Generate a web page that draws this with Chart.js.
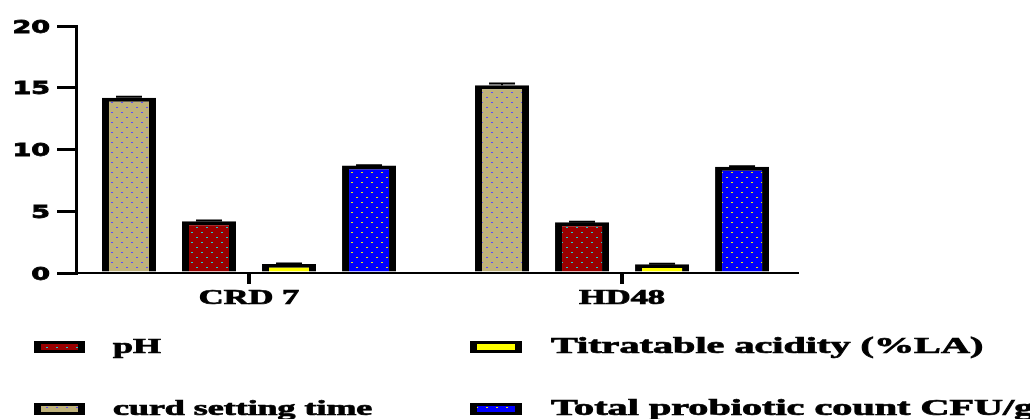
<!DOCTYPE html>
<html>
<head>
<meta charset="utf-8">
<script src="https://cdn.jsdelivr.net/npm/chart.js@4.4.1/dist/chart.umd.min.js"></script>
<style>
  html, body { margin: 0; padding: 0; background: #ffffff; }
  #wrap { width: 1030px; height: 419px; position: relative; }
</style>
</head>
<body>
<div id="wrap"><canvas id="c" width="1030" height="419"></canvas></div>
<script>
// ---- data ----
const categories = ['CRD 7', 'HD48'];
const seriesNames = ['curd setting time', 'pH', 'Titratable acidity (%LA)', 'Total probiotic count CFU/g'];
const curdSettingTime = [14.2, 15.2];
const pHValues = [4.2, 4.1];
const titratableAcidity = [0.72, 0.7];
const totalProbioticCount = [8.7, 8.6];
const curdSettingErr = [0.08, 0.15];
const pHErr = [0.05, 0.05];
const titratableErr = [0.05, 0.05];
const totalProbioticErr = [0.03, 0.05];
const yTickValues = [0, 5, 10, 15, 20];
const legendOrder = ['pH', 'Titratable acidity (%LA)', 'curd setting time', 'Total probiotic count CFU/g'];

// ---- patterns ----
function dotPattern(bg, dot) {
  const t = document.createElement('canvas');
  t.width = 10; t.height = 10;
  const g = t.getContext('2d');
  g.fillStyle = bg; g.fillRect(0, 0, 10, 10);
  if (dot) {
    g.fillStyle = dot;
    g.fillRect(1, 2, 2, 1);
    g.fillRect(6, 7, 2, 1);
  }
  return document.getElementById('c').getContext('2d').createPattern(t, 'repeat');
}
const fills = [
  dotPattern('#bfb27b', '#5a4cff'),
  dotPattern('#990000', '#19d0d0'),
  dotPattern('#ffff00', null),
  dotPattern('#0000ff', '#f0f000')
];

const valueSets = [curdSettingTime, pHValues, titratableAcidity, totalProbioticCount];
const errSets = [curdSettingErr, pHErr, titratableErr, totalProbioticErr];

const datasets = seriesNames.map((name, k) => ({
  label: name,
  data: valueSets[k].map((v, i) => ({ x: i, y: v })),
  errors: errSets[k],
  backgroundColor: fills[k],
  borderColor: '#000000',
  borderWidth: { top: 4, left: 7, right: 7, bottom: 0 },
  borderSkipped: 'bottom',
  categoryPercentage: 0.858,
  barPercentage: 0.675
}));

function stretchText(ctx, text, x, y, font, sx, align, stroke) {
  ctx.save();
  ctx.font = font;
  ctx.fillStyle = '#000';
  ctx.strokeStyle = '#000';
  ctx.textBaseline = 'alphabetic';
  ctx.textAlign = align;
  ctx.translate(x, y);
  ctx.scale(sx, 1);
  ctx.fillText(text, 0, 0);
  if (stroke) { ctx.lineWidth = stroke; ctx.strokeText(text, 0, 0); }
  ctx.restore();
}

const decorPlugin = {
  id: 'decor',
  afterDatasetsDraw(chart) {
    const ctx = chart.ctx;
    const ys = chart.scales.y;
    // error bars
    chart.data.datasets.forEach((ds, k) => {
      const meta = chart.getDatasetMeta(k);
      meta.data.forEach((el, i) => {
        const v = ds.data[i].y;
        const e = ds.errors[i];
        const yTop = ys.getPixelForValue(v + e);
        ctx.save();
        ctx.strokeStyle = '#000';
        ctx.lineWidth = 2;
        ctx.beginPath();
        ctx.moveTo(el.x, el.y);
        ctx.lineTo(el.x, yTop);
        ctx.moveTo(el.x - 13, yTop);
        ctx.lineTo(el.x + 13, yTop);
        ctx.stroke();
        ctx.restore();
      });
    });
  },
  afterDraw(chart) {
    const ctx = chart.ctx;
    const ys = chart.scales.y;
    const xs = chart.scales.x;
    // y tick labels
    ys.ticks.forEach(t => {
      const y = ys.getPixelForValue(t.value);
      stretchText(ctx, String(t.value), 50, y + 6.5, 'bold 18px "DejaVu Sans"', 1.5, 'right', 0.8);
    });
    // x category labels
    categories.forEach((c, i) => {
      const x = xs.getPixelForValue(i);
      stretchText(ctx, c, x, 304, 'bold 20px "Liberation Serif"', 1.72, 'center', 0.7);
    });
    // legend
    const cols = [
      { sx: 34, sw: 51, tx: 113, font: 'bold 21px "Liberation Serif"' },
      { sx: 470, sw: 52, tx: 551, font: 'bold 23.5px "Liberation Serif"' }
    ];
    const rows = [{ y: 341, base: 353 }, { y: 403, base: 415 }];
    legendOrder.forEach((name, n) => {
      const k = seriesNames.indexOf(name);
      const col = cols[n % 2], row = rows[Math.floor(n / 2)];
      ctx.save();
      ctx.fillStyle = '#000';
      ctx.fillRect(col.sx, row.y, col.sw, 12);
      ctx.fillStyle = fills[k];
      ctx.fillRect(col.sx + 7, row.y + 3, col.sw - 14, 6);
      ctx.restore();
      stretchText(ctx, name, col.tx, row.base, col.font, 1.71, 'left', 0.7);
    });
  }
};

new Chart(document.getElementById('c'), {
  type: 'bar',
  data: { datasets },
  options: {
    responsive: false,
    animation: false,
    events: [],
    layout: { padding: { top: 26, right: 233, left: 0, bottom: 0 } },
    plugins: { legend: { display: false }, tooltip: { enabled: false } },
    scales: {
      x: {
        type: 'linear',
        offset: false,
        min: -0.4638,
        max: 1.469,
        afterBuildTicks: (axis) => { axis.ticks = categories.map((_, i) => ({ value: i })); },
        afterFit: (axis) => { axis.height = 146; },
        ticks: { display: false },
        grid: { display: true, offset: false, drawOnChartArea: false, drawTicks: true, tickLength: 11, lineWidth: 4, color: '#000' },
        border: { display: true, color: '#000', width: 2 }
      },
      y: {
        type: 'linear',
        min: 0,
        max: 20,
        afterBuildTicks: (axis) => { axis.ticks = yTickValues.map(v => ({ value: v })); },
        afterFit: (axis) => { axis.width = 76; },
        ticks: { display: false },
        grid: { display: true, drawOnChartArea: false, drawTicks: true, tickLength: 19, lineWidth: 3, color: '#000' },
        border: { display: true, color: '#000', width: 3 }
      }
    }
  },
  plugins: [decorPlugin]
});
</script>
</body>
</html>
